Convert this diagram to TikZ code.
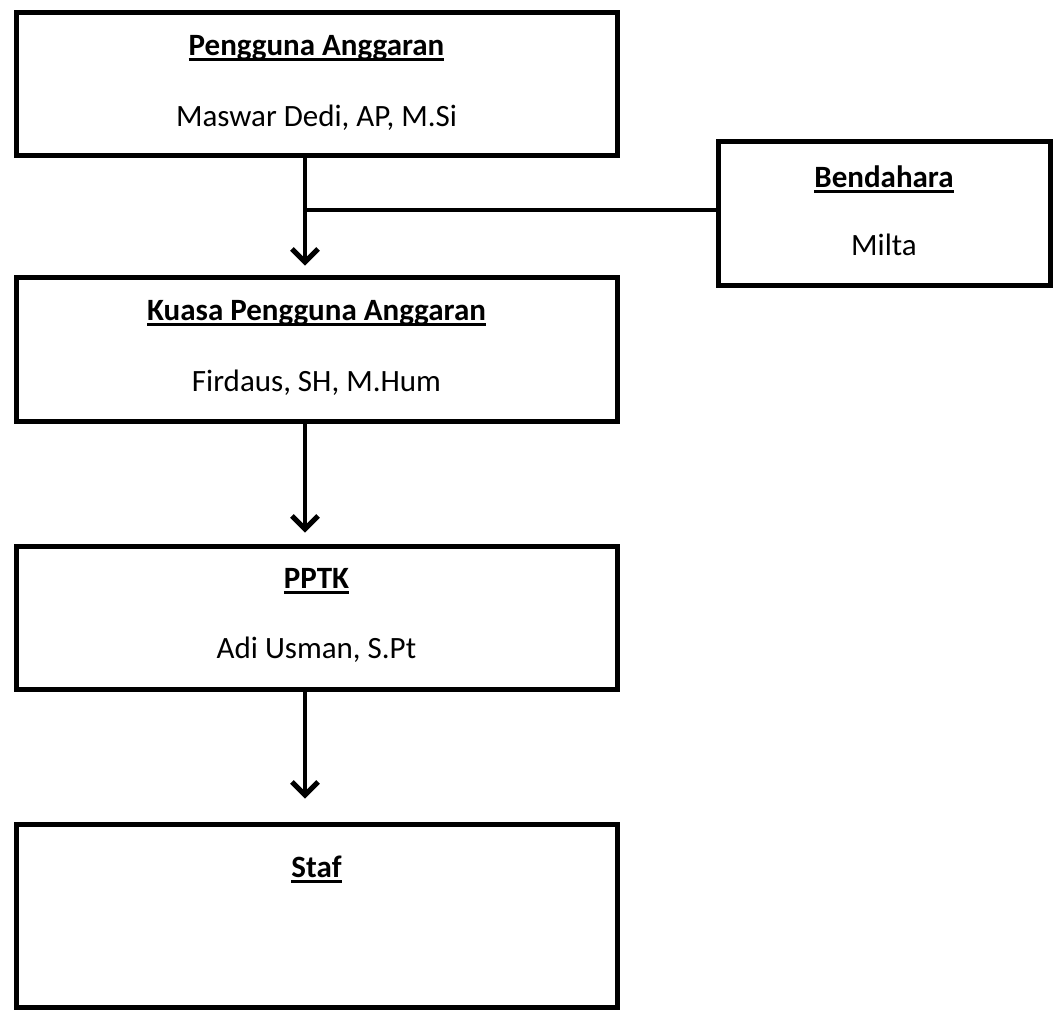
\documentclass[tikz,border=0pt]{standalone}
\usepackage{fontspec}
\setmainfont{Carlito}
\usetikzlibrary{arrows.meta}
\newcommand{\myul}[1]{\setbox0\hbox{#1}\rlap{\rule[-5pt]{\wd0}{2.2pt}}\box0}
\begin{document}
\begin{tikzpicture}[x=1pt,y=1pt,
  orgbox/.style={draw=black, line width=5pt, fill=none, inner sep=0pt},
  ttl/.style={font=\fontsize{31}{36}\selectfont\bfseries, inner sep=0pt, anchor=base},
  sub/.style={font=\fontsize{31}{36}\selectfont, inner sep=0pt, anchor=base},
  conn/.style={line width=4.5pt, draw=black},
  arr/.style={conn, -{Straight Barb[length=13pt,width=26pt,line width=5pt]}}
]
\useasboundingbox (0,0) rectangle (1053,-1010);
% boxes
\node[orgbox, minimum width=601pt, minimum height=143pt] (pa) at (316.5,-83.5) {};
\node[orgbox, minimum width=601pt, minimum height=144pt] (kpa) at (316.5,-349) {};
\node[orgbox, minimum width=601pt, minimum height=143pt] (pptk) at (316.5,-617.5) {};
\node[orgbox, minimum width=601pt, minimum height=183pt] (staf) at (316.5,-915.5) {};
\node[orgbox, minimum width=332pt, minimum height=144pt] (bend) at (884,-213) {};
% texts
\node[ttl] (paT) at ([yshift=-46pt]pa.north) {\myul{Pengguna Anggaran}};
\node[sub] (paS) at ([yshift=-117pt]pa.north) {Maswar Dedi, AP, M.Si};
\node[ttl] (kpaT) at ([yshift=-46pt]kpa.north) {\myul{Kuasa Pengguna Anggaran}};
\node[sub] (kpaS) at ([yshift=-117pt]kpa.north) {Firdaus, SH, M.Hum};
\node[ttl] (pptkT) at ([yshift=-45pt]pptk.north) {\myul{PPTK}};
\node[sub] (pptkS) at ([yshift=-115pt]pptk.north) {Adi Usman, S.Pt};
\node[ttl] (stafT) at ([yshift=-56pt]staf.north) {\myul{Staf}};
\node[ttl] (bendT) at ([yshift=-49pt]bend.north) {\myul{Bendahara}};
\node[sub] (bendS) at ([yshift=-117pt]bend.north) {Milta};
% connectors
\coordinate (colx) at (305,0);
\coordinate (junc) at (305,-210);
\draw[arr, shorten >=9pt] (pa.south -| colx) -- (kpa.north -| colx);
\draw[conn, line width=3.8pt] (junc) -- (bend.west |- junc);
\draw[arr, shorten >=11pt] (kpa.south -| colx) -- (pptk.north -| colx);
\draw[arr, shorten >=23pt] (pptk.south -| colx) -- (staf.north -| colx);
\end{tikzpicture}
\end{document}
